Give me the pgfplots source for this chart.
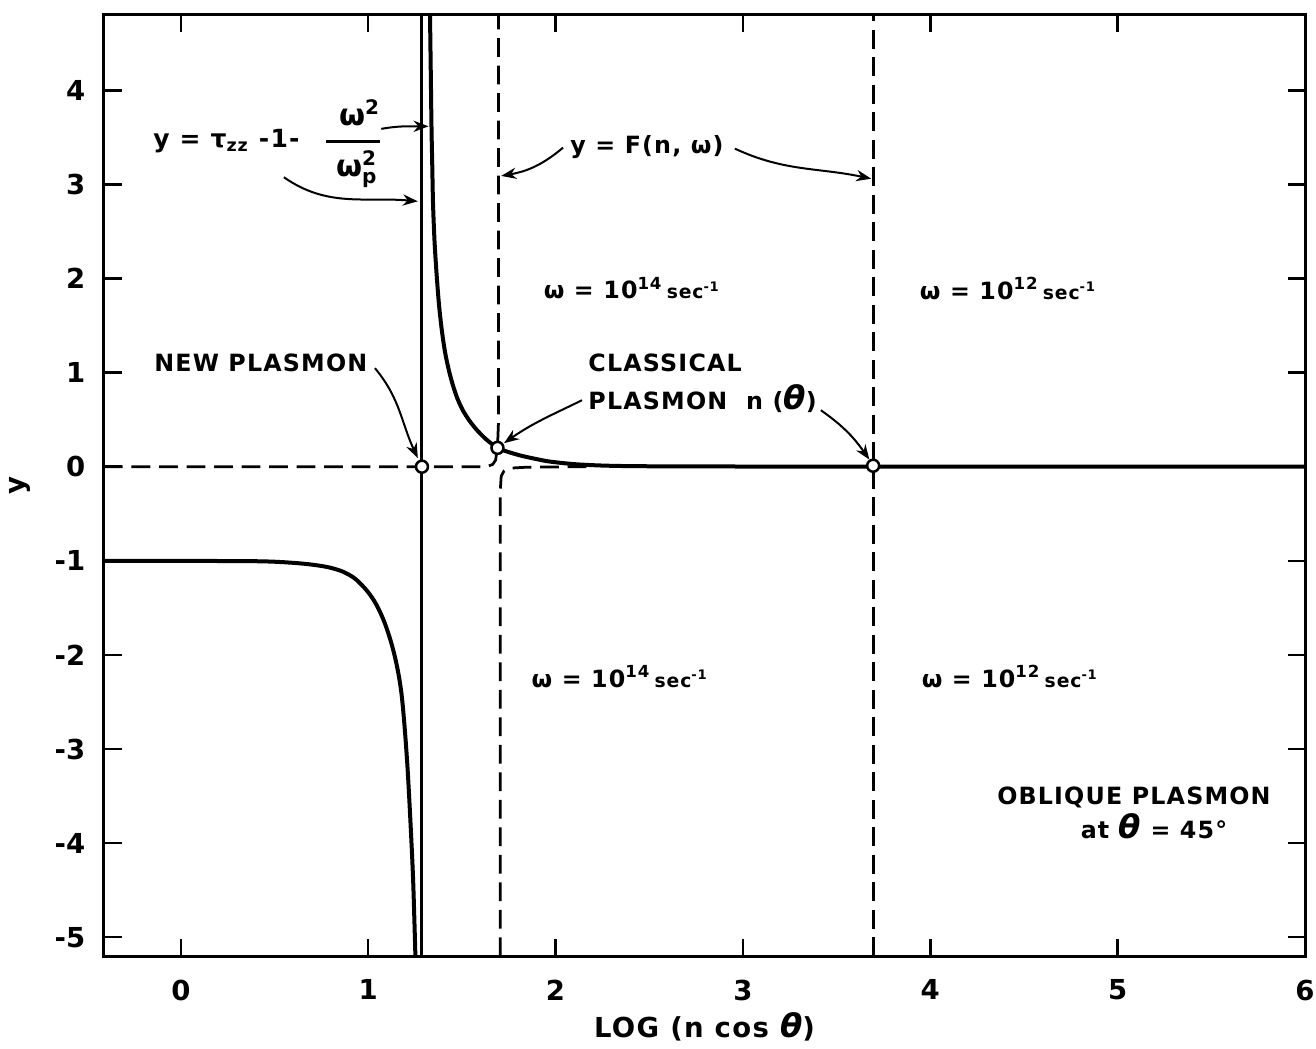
\documentclass[border=0pt]{standalone}
\usepackage{amsmath}
\usepackage{fontspec}
\setmainfont{DejaVu Sans}
\newfontfamily\lett[LetterSpace=5]{DejaVu Sans}
\usepackage{pgfplots}
\pgfplotsset{compat=1.18}
\usetikzlibrary{arrows.meta}

\newcommand\lbf{\lett\bfseries\fontsize{9.5}{11}\selectfont}
\newcommand\thet{{\itshape\fontsize{13}{13}\selectfont θ}}

\begin{document}
\begin{tikzpicture}[
  lbl/.style={font=\lbf, inner sep=0pt},
  pt/.style={-{Stealth[length=6pt,width=4.5pt]}, line width=0.8pt},
]
\begin{axis}[
  name=ax,
  scale only axis, width=480.4pt, height=376.4pt,
  xmin=-0.41, xmax=6, ymin=-5.2, ymax=4.8,
  xtick={0,...,6}, xticklabels={0,1,2,3,4,5,6},
  ytick={-5,...,4}, yticklabels={-5,-4,-3,-2,-1,0,1,2,3,4},
  tick align=inside, major tick length=7pt,
  every tick/.style={line width=1pt, black},
  axis line style={line width=1.2pt},
  ticklabel style={font=\bfseries\fontsize{11}{13}\selectfont},
  xticklabel style={yshift=-6pt},
  yticklabel style={xshift=-4pt},
  xlabel={LOG (n cos \thet)}, ylabel={y},
  xlabel style={at={(axis description cs:0.5,-0.0755)}, anchor=center, font=\lett\bfseries\fontsize{11}{13}\selectfont},
  ylabel style={at={(axis description cs:-0.07,0.5)}, anchor=center, font=\bfseries\fontsize{11}{13}\selectfont},
  clip=false,
]
% left branch of tau_zz - 1 - w^2/wp^2
\addplot[line width=1.6pt, smooth, tension=0.5] coordinates {
  (-0.41,-1.0) (0.3,-1.003) (0.5,-1.01) (0.65,-1.03) (0.75,-1.055) (0.81,-1.08)
  (0.87,-1.12) (0.93,-1.19) (0.99,-1.31) (1.03,-1.42) (1.06,-1.53) (1.09,-1.67)
  (1.12,-1.85) (1.145,-2.04) (1.165,-2.24) (1.18,-2.45) (1.195,-2.78) (1.21,-3.2)
  (1.225,-3.75) (1.24,-4.4) (1.252,-5.2)};
% pole line
\addplot[line width=1.2pt] coordinates {(1.287,-5.2) (1.287,4.8)};
% right branch
\addplot[line width=1.6pt, smooth, tension=0.5] coordinates {
  (1.330,4.8) (1.334,4.2) (1.338,3.6) (1.342,3.2) (1.346,2.8) (1.354,2.4)
  (1.365,2.05) (1.378,1.72) (1.393,1.45) (1.41,1.22) (1.43,1.03) (1.45,0.88)
  (1.475,0.73) (1.505,0.6) (1.54,0.49) (1.58,0.39) (1.63,0.29) (1.69,0.2)
  (1.75,0.155) (1.82,0.115) (1.9,0.08) (1.96,0.057) (2.05,0.036) (2.13,0.023)
  (2.25,0.012) (2.4,0.006) (2.7,0.003) (3.5,0.001) (6,0.0)};
% F(n,w), w = 1e14
\addplot[line width=1.1pt, dash pattern=on 7.5pt off 3.5pt] coordinates {
  (-0.41,0) (1.6,0) (1.64,0.005) (1.665,0.025) (1.68,0.07) (1.69,0.2) (1.695,0.45) (1.695,4.8)};
\addplot[line width=1.1pt, dash pattern=on 7.5pt off 3.5pt] coordinates {
  (1.705,-5.2) (1.705,-0.25) (1.71,-0.1) (1.725,-0.045) (1.76,-0.015) (1.85,-0.005) (2.2,0)};
% F(n,w), w = 1e12
\addplot[line width=1.1pt, dash pattern=on 7.5pt off 3.5pt] coordinates {(3.695,-5.2) (3.695,4.8)};
% roots
\addplot[only marks, mark=*, mark size=2.4pt, mark options={fill=white, draw=black, line width=1pt}]
  coordinates {(1.287,0) (1.69,0.2) (3.695,0.01)};

% labels
\node[lbl, anchor=west, font=\lett\bfseries\fontsize{10}{11}\selectfont] at (axis cs:-0.149,3.457) {y = τ\textsubscript{zz} -1-};
\node[lbl, font=\lett\bfseries\fontsize{12}{13}\selectfont] at (axis cs:0.955,3.76) {ω\textsuperscript{2}};
\draw[line width=1.1pt] (axis cs:0.775,3.457) -- (axis cs:1.065,3.457);
\node[lbl, font=\lett\bfseries\fontsize{12}{13}\selectfont] at (axis cs:0.94,3.16) {$\text{ω}^{\text{2}}_{\text{p}}$};
\node[lbl] at (axis cs:2.488,3.394) {y = F(n, ω)};
\node[lbl] at (axis cs:2.408,1.896) {ω = 10\textsuperscript{14}\,{\fontsize{7.5}{8}\selectfont sec\textsuperscript{-1}}};
\node[lbl] at (axis cs:4.415,1.896) {ω = 10\textsuperscript{12}\,{\fontsize{7.5}{8}\selectfont sec\textsuperscript{-1}}};
\node[lbl] at (axis cs:2.343,-2.23) {ω = 10\textsuperscript{14}\,{\fontsize{7.5}{8}\selectfont sec\textsuperscript{-1}}};
\node[lbl] at (axis cs:4.425,-2.23) {ω = 10\textsuperscript{12}\,{\fontsize{7.5}{8}\selectfont sec\textsuperscript{-1}}};
\node[lbl] at (axis cs:0.427,1.108) {NEW PLASMON};
\node[lbl, anchor=west] at (axis cs:2.173,1.10) {CLASSICAL};
\node[lbl, anchor=west] at (axis cs:2.173,0.727) {PLASMON \ n (\thet)};
\node[lbl] at (axis cs:5.087,-3.511) {OBLIQUE PLASMON};
\node[lbl] at (axis cs:5.194,-3.82) {at \thet\ = 45°};

% arrows
\draw[pt] (axis cs:1.07,3.59) to[out=10,in=180] (axis cs:1.322,3.617);
\draw[pt] (axis cs:0.55,3.076) to[out=-35,in=175] (axis cs:1.265,2.82);
\draw[pt] (axis cs:2.04,3.39) to[out=-140,in=10] (axis cs:1.71,3.09);
\draw[pt] (axis cs:2.957,3.38) to[out=-25,in=168] (axis cs:3.685,3.06);
\draw[pt] (axis cs:1.036,1.047) to[out=-50,in=115] (axis cs:1.265,0.09);
\draw[pt] (axis cs:2.141,0.706) to[out=-154,in=35] (axis cs:1.725,0.25);
\draw[pt] (axis cs:3.416,0.600) to[out=-35,in=125] (axis cs:3.675,0.075);
\end{axis}
\pgfresetboundingbox
\path[use as bounding box] ([shift={(-41.6pt,-36.8pt)}]ax.south west) rectangle ([shift={(4.4pt,6pt)}]ax.north east);
\end{tikzpicture}
\end{document}
